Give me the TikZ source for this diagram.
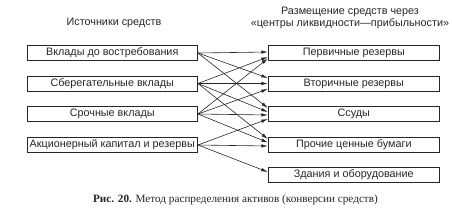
\documentclass[tikz,border=0pt]{standalone}
\usepackage{fontspec}
\setmainfont{Liberation Serif}
\newfontfamily\boxfont{Liberation Sans}
\usetikzlibrary{arrows.meta}
\definecolor{ink}{HTML}{262626}
\tikzset{
  srcbox/.style={draw=ink, line width=0.9pt, minimum width=170.5pt, minimum height=15pt, inner sep=0pt, font=\boxfont\fontsize{10.8}{11}\selectfont, text=ink},
  usebox/.style={srcbox, minimum width=171pt},
  title/.style={font=\boxfont\fontsize{10.8}{12.6}\selectfont, text=ink, align=center, inner sep=0pt},
  link/.style={draw=ink, line width=0.6pt, -{Latex[length=6.5pt,width=3.4pt]}}
}
\begin{document}
\begin{tikzpicture}[x=1pt,y=-1pt]
\useasboundingbox (0,0) rectangle (452,218);
\node[title] (tl) at (114,23) {Источники средств};
\node[title] (tr) at (350,18) {Размещение средств через\\«центры ликвидности—прибыльности»};

\node[srcbox] (L1) at (112.25,53) {Вклады до востребования};
\node[srcbox] (L2) at (112.25,83.5) {Сберегательные вклады};
\node[srcbox] (L3) at (112.25,114) {Срочные вклады};
\node[srcbox] (L4) at (112.25,145) {Акционерный капитал и резервы};

\node[usebox] (R1) at (353.8,53) {Первичные резервы};
\node[usebox] (R2) at (353.8,83.5) {Вторичные резервы};
\node[usebox] (R3) at (353.8,114) {Ссуды};
\node[usebox] (R4) at (353.8,144.5) {Прочие ценные бумаги};
\node[usebox] (R5) at (353.8,175) {Здания и оборудование};

% from L1
\draw[link] (L1.east) -- ([yshift=1pt]R1.west);
\draw[link] (L1.east) -- ([yshift=5.5pt]R2.west);
\draw[link] (L1.east) -- ([yshift=6pt]R3.west);
% from L2
\draw[link] (L2.east) -- ([yshift=-4pt]R1.west);
\draw[link] (L2.east) -- ([yshift=0pt]R2.west);
\draw[link] (L2.east) -- ([yshift=2pt]R3.west);
\draw[link] (L2.east) -- ([yshift=5.5pt]R4.west);
% from L3
\draw[link] (L3.east) -- ([yshift=-5.5pt]R1.west);
\draw[link] (L3.east) -- ([yshift=-5.5pt]R2.west);
\draw[link] (L3.east) -- ([yshift=-1pt]R3.west);
\draw[link] (L3.east) -- ([yshift=2pt]R4.west);
% from L4
\draw[link] (L4.east) -- ([yshift=-5pt]R3.west);
\draw[link] (L4.east) -- ([yshift=-1.5pt]R4.west);
\draw[link] (L4.east) -- ([yshift=3pt]R5.west);

\node[font=\fontsize{11.2}{13}\selectfont, text=ink, inner sep=0pt] (cap) at (235.5,200) {\textbf{Рис. 20.} Метод распределения активов (конверсии средств)};
\end{tikzpicture}
\end{document}
